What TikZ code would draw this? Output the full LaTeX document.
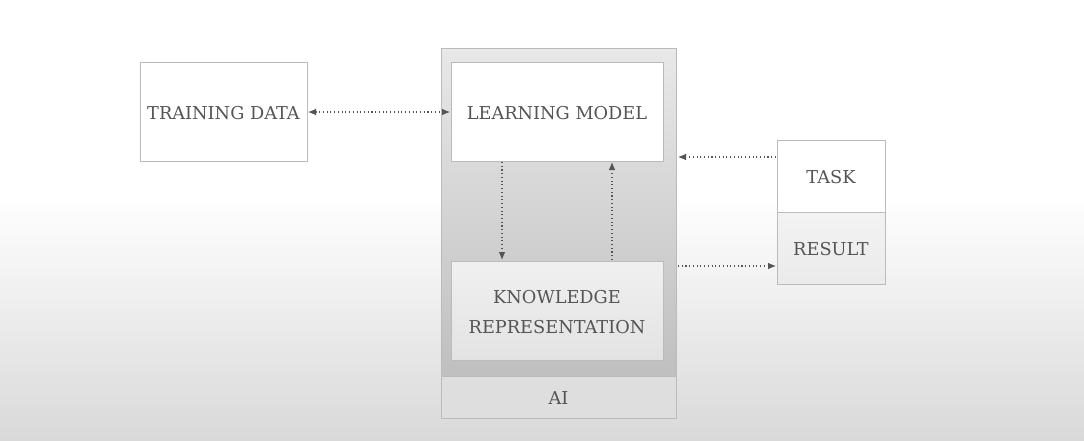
\documentclass[tikz,border=0pt]{standalone}
\usepackage{fontspec}
\setmainfont{DejaVu Serif}
\usetikzlibrary{arrows.meta}
\definecolor{txt}{HTML}{555555}
\definecolor{edge}{HTML}{BBBBBB}
\begin{document}
\begin{tikzpicture}[x=0.75pt,y=-0.75pt,
  lbl/.style={font=\fontsize{13.3}{22}\selectfont, text=txt, align=center},
  box/.style={draw=edge, line width=0.6pt},
  link/.style={draw=txt, dotted, line width=0.8pt, -{Latex[length=6pt,width=5pt]}}]
\useasboundingbox (0,0) rectangle (1084,440);
\fill[white] (0,0) rectangle (1084,195);
\shade[top color=white, bottom color=black!15] (0,195) rectangle (1084,440);
% AI container
\shade[top color=black!9, bottom color=black!25, draw=edge] (441,48) rectangle (676,376);
\fill[black!13, draw=edge] (441,376) rectangle (676,418);
\node[lbl] (ai) at (558.5,398) {AI};
% boxes
\draw[box, fill=white] (140,62) rectangle (307,161);
\node[lbl] (td) at (223.5,113) {TRAINING DATA};
\draw[box, fill=white] (451,62) rectangle (663,161);
\node[lbl] (lm) at (557,113) {LEARNING MODEL};
\shade[box, top color=black!6, bottom color=black!11] (451,261) rectangle (663,360);
\node[lbl] (kr) at (557,312) {KNOWLEDGE\\REPRESENTATION};
\draw[box, fill=white] (777,140) rectangle (885,212);
\node[lbl] (task) at (831,177) {TASK};
\shade[box, top color=black!5, bottom color=black!8] (777,212) rectangle (885,284);
\node[lbl] (res) at (831,249) {RESULT};
% connectors
\coordinate (tdR) at (308,112);
\coordinate (lmL) at (450,112);
\coordinate (lmB1) at (502,162);
\coordinate (krT1) at (502,260);
\coordinate (krT2) at (612,260);
\coordinate (lmB2) at (612,162);
\coordinate (taskL) at (776,157);
\coordinate (aiR1) at (678,157);
\coordinate (aiR2) at (678,266);
\coordinate (resL) at (776,266);
\draw[link, {Latex[length=6pt,width=5pt]}-{Latex[length=6pt,width=5pt]}] (tdR) -- (lmL);
\draw[link] (lmB1) -- (krT1);
\draw[link] (krT2) -- (lmB2);
\draw[link] (taskL) -- (aiR1);
\draw[link] (aiR2) -- (resL);
\end{tikzpicture}
\end{document}
